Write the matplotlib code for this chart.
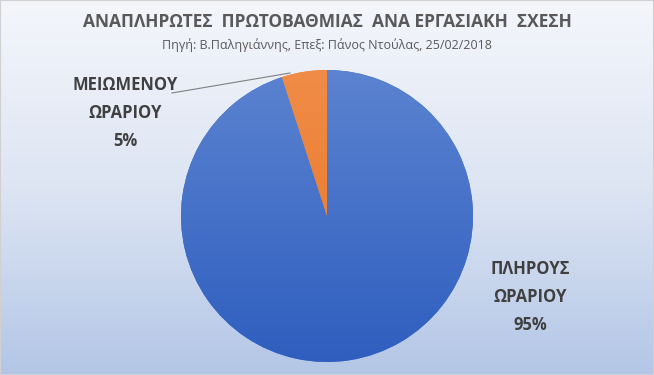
import numpy as np
import matplotlib.pyplot as plt
from matplotlib.colors import LinearSegmentedColormap

plt.rcParams['font.family'] = ['Open Sans', 'DejaVu Sans']

labels = ['ΠΛΗΡΟΥΣ\nΩΡΑΡΙΟΥ', 'ΜΕΙΩΜΕΝΟΥ\nΩΡΑΡΙΟΥ']
values = [95, 5]
colors = ['#4472c4', '#ed7d31']
title = 'ΑΝΑΠΛΗΡΩΤΕΣ  ΠΡΩΤΟΒΑΘΜΙΑΣ  ΑΝΑ ΕΡΓΑΣΙΑΚΗ  ΣΧΕΣΗ'
subtitle = 'Πηγή: Β.Παληγιάννης, Επεξ: Πάνος Ντούλας, 25/02/2018'

W, H = 654, 375
fig = plt.figure(figsize=(W / 100, H / 100), dpi=100)

# background gradient
bg = fig.add_axes([0, 0, 1, 1])
bg_cmap = LinearSegmentedColormap.from_list('bg', ['#b3c6e6', '#dde5f3', '#f4f6fb'])
grad = np.linspace(0, 1, 256).reshape(-1, 1)
bg.imshow(grad, aspect='auto', cmap=bg_cmap, origin='lower', extent=[0, 1, 0, 1])
bg.set_xlim(0, 1)
bg.set_ylim(0, 1)
bg.axis('off')
bg.plot([0, 1, 1, 0, 0], [0, 0, 1, 1, 0], color='#d0d0d0', lw=1.5)

fig.text(0.5, 1 - 22 / H, title, ha='center', va='center', fontsize=12.5,
         fontweight='bold', color='#595959')
fig.text(0.5, 1 - 45 / H, subtitle, ha='center', va='center', fontsize=9,
         color='#595959')

cx, cy, r = 327, 216, 146
ax = fig.add_axes([(cx - r) / W, 1 - (cy + r) / H, 2 * r / W, 2 * r / H])
wedges, _ = ax.pie(values, colors=colors, startangle=90, counterclock=False,
                   wedgeprops=dict(linewidth=0))

# subtle vertical shading inside each slice
shades = [['#2f5ebf', '#5b83d0'], ['#e8731f', '#f08c48']]
for w, sh in zip(wedges, shades):
    cm = LinearSegmentedColormap.from_list('s', sh)
    im = ax.imshow(grad, aspect='auto', cmap=cm, origin='lower',
                   extent=[-1, 1, -1, 1], zorder=w.get_zorder() + 0.1)
    im.set_clip_path(w)
ax.set_xlim(-1, 1)
ax.set_ylim(-1, 1)

# labels
fig.text(530 / W, 1 - 297 / H, labels[0] + '\n' + f'{values[0]}%', ha='center',
         va='center', fontsize=12, fontweight='bold', color='#404040',
         linespacing=1.75)
fig.text(125 / W, 1 - 113 / H, labels[1] + '\n' + f'{values[1]}%', ha='center',
         va='center', fontsize=12, fontweight='bold', color='#404040',
         linespacing=1.75)

# leader line
bg.plot([172 / W, 290 / W], [1 - 93 / H, 1 - 73 / H], color='#808080', lw=0.8)

fig.savefig('out.png', dpi=100)
